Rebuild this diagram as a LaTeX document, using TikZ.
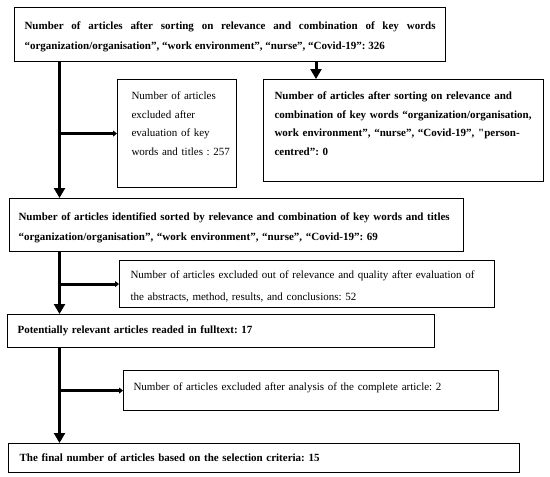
\documentclass[tikz,border=0pt]{standalone}
\usepackage{fontspec}
\setmainfont{Liberation Serif}
\usetikzlibrary{arrows.meta,
  positioning
}

\begin{document}
\frenchspacing
\begin{tikzpicture}[x=1pt,y=-1pt,
  stage/.style={draw,line width=1.1pt,anchor=north west,inner xsep=0pt,inner ysep=0pt,
    align=left,font=\fontsize{11}{#1}\selectfont},
  stage/.default=19,
  heavy/.style={execute at begin node={\bfseries\leftskip=#1pt}},
  light/.style={execute at begin node={\leftskip=#1pt}},
  mainflow/.style={line width=3pt,-{Triangle[length=10pt,width=11pt]}},
  sideflow/.style={line width=3pt,-{Triangle[length=4pt,width=6pt]}}]
  \useasboundingbox (0,0) rectangle (550,477);

  \node[stage=19.5,heavy=0,align=justify,inner xsep=10pt,text width=411pt,
  text height=22pt,text depth=32pt] (start) at (14,7)
  {Number of articles after sorting on relevance and combination of key words\linebreak
    “organization/organisation”, “work environment”, “nurse”, “Covid-19”: 326};

  \node[stage=18.7,light=14,text width=119pt,
  text height=20pt,text depth=88pt] (keywords) at (117,79)
  {Number of articles\\excluded after\\evaluation of key\\words and titles : 257};

  \node[stage=18.6,heavy=11,text width=280pt,
  text height=20pt,text depth=82pt] (personcentred) at (263,79)
  {Number of articles after sorting on relevance and\\
    combination of key words “organization/organisation,\\
    work environment”, “nurse”, “Covid-19”, \textquotedbl person-\\
    centred”: 0};

  \node[stage=20,heavy=9,text width=454pt,
  text height=22pt,text depth=31pt] (identified) at (9,198)
  {Number of articles identified sorted by relevance and combination of key words and titles\\
    “organization/organisation”, “work environment”, “nurse”, “Covid-19”: 69};

  \node[stage=22,light=11,text width=375pt,
  text height=18pt,text depth=29pt] (abstracts) at (119,260)
  {Number of articles excluded out of relevance and quality after evaluation of\\
    the abstracts, method, results, and conclusions: 52};

  \node[stage,heavy=10,text width=427pt,
  text height=19pt,text depth=14pt] (fulltext) at (7,314)
  {Potentially relevant articles readed in fulltext: 17};

  \node[stage,light=10,text width=375pt,
  text height=20pt,text depth=20pt] (analysis) at (123,370)
  {Number of articles excluded after analysis of the complete article: 2};

  \node[stage,heavy=11,text width=511pt,
  text height=18pt,text depth=11pt] (final) at (8,443)
  {The final number of articles based on the selection criteria: 15};

  \coordinate (trunk) at (59.5,0);
  \coordinate (drop) at (316,0);

  \draw[mainflow] (start.south -| trunk) -- (identified.north -| trunk);
  \draw[sideflow] (keywords.west -| trunk) -- (keywords.west);
  \draw[mainflow] (start.south -| drop) -- (personcentred.north -| drop);

  \draw[mainflow] (identified.south -| trunk) -- (fulltext.north -| trunk);
  \draw[sideflow] (abstracts.west -| trunk) -- (abstracts.west);

  \draw[mainflow] (fulltext.south -| trunk) -- (final.north -| trunk);
  \draw[sideflow] (analysis.west -| trunk) -- (analysis.west);
\end{tikzpicture}
\end{document}
